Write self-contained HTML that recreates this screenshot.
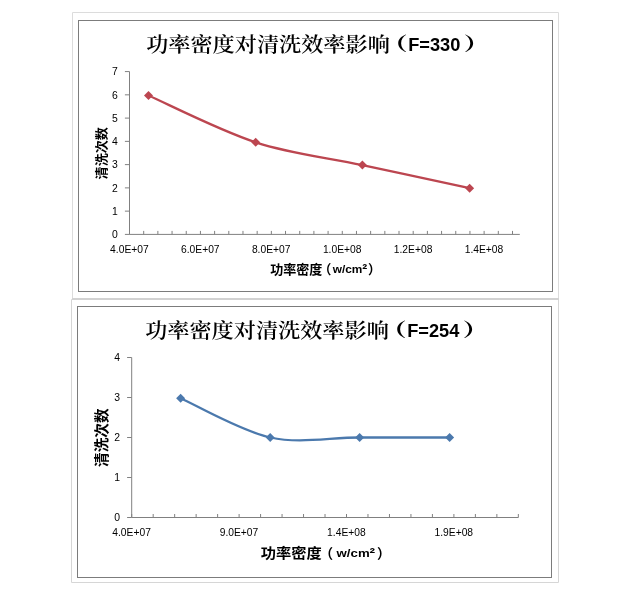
<!DOCTYPE html>
<html lang="zh"><head><meta charset="utf-8"><title>功率密度对清洗效率影响</title>
<style>
html,body{margin:0;padding:0;background:#fff;}
body{width:625px;height:601px;overflow:hidden;}
svg{display:block;}
</style></head><body>
<svg width="625" height="601" viewBox="0 0 625 601">
<rect width="625" height="601" fill="#fff"/>
<!-- outer frames -->
<path d="M72.5,12.5 H558.5 V298.5 H72.5 Z" fill="none" stroke="#dcdcdc" stroke-width="1"/>
<path d="M71.5,299.5 H558.5 V582.5 H71.5 Z" fill="none" stroke="#d6d6d6" stroke-width="1"/>
<path d="M72,299 H559" fill="none" stroke="#d2d2d2" stroke-width="2"/>
<rect x="78.5" y="20.5" width="474" height="271" fill="#fff" stroke="#7c7c7c" stroke-width="1"/>
<text x="146.2" y="52.0" font-family='"Liberation Serif","Noto Serif CJK SC",serif' font-size="20.6" font-weight="600" fill="#000" textLength="243.6" lengthAdjust="spacingAndGlyphs">功率密度对清洗效率影响</text>
<text x="381.7" y="49.8" font-family='"Liberation Serif","Noto Serif CJK SC",serif' font-size="18.5" font-weight="900" fill="#000" textLength="25.9" lengthAdjust="spacingAndGlyphs">（</text>
<text x="408.2" y="50.6" font-family='"Liberation Sans","Noto Sans CJK SC",sans-serif' font-size="18.4" font-weight="700" fill="#000" textLength="52.2" lengthAdjust="spacingAndGlyphs">F=330</text>
<text x="463.8" y="49.8" font-family='"Liberation Serif","Noto Serif CJK SC",serif' font-size="18.5" font-weight="900" fill="#000" textLength="25.9" lengthAdjust="spacingAndGlyphs">）</text>
<path d="M129.5,71.6 V234.4 H519.8" fill="none" stroke="#808080" stroke-width="1"/>
<text x="117.9" y="238.1" text-anchor="end" font-family='"Liberation Sans","Noto Sans CJK SC",sans-serif' font-size="10.4" fill="#000">0</text>
<text x="117.9" y="214.8" text-anchor="end" font-family='"Liberation Sans","Noto Sans CJK SC",sans-serif' font-size="10.4" fill="#000">1</text>
<text x="117.9" y="191.6" text-anchor="end" font-family='"Liberation Sans","Noto Sans CJK SC",sans-serif' font-size="10.4" fill="#000">2</text>
<text x="117.9" y="168.3" text-anchor="end" font-family='"Liberation Sans","Noto Sans CJK SC",sans-serif' font-size="10.4" fill="#000">3</text>
<text x="117.9" y="145.1" text-anchor="end" font-family='"Liberation Sans","Noto Sans CJK SC",sans-serif' font-size="10.4" fill="#000">4</text>
<text x="117.9" y="121.8" text-anchor="end" font-family='"Liberation Sans","Noto Sans CJK SC",sans-serif' font-size="10.4" fill="#000">5</text>
<text x="117.9" y="98.5" text-anchor="end" font-family='"Liberation Sans","Noto Sans CJK SC",sans-serif' font-size="10.4" fill="#000">6</text>
<text x="117.9" y="75.3" text-anchor="end" font-family='"Liberation Sans","Noto Sans CJK SC",sans-serif' font-size="10.4" fill="#000">7</text>
<path d="M124.9,234.40H129.5M124.9,211.14H129.5M124.9,187.88H129.5M124.9,164.62H129.5M124.9,141.36H129.5M124.9,118.10H129.5M124.9,94.84H129.5M124.9,71.58H129.5M129.50,234.4V230.9M143.69,234.4V230.9M157.87,234.4V230.9M172.06,234.4V230.9M186.24,234.4V230.9M200.43,234.4V230.9M214.61,234.4V230.9M228.80,234.4V230.9M242.98,234.4V230.9M257.17,234.4V230.9M271.35,234.4V230.9M285.53,234.4V230.9M299.72,234.4V230.9M313.90,234.4V230.9M328.09,234.4V230.9M342.27,234.4V230.9M356.46,234.4V230.9M370.64,234.4V230.9M384.83,234.4V230.9M399.01,234.4V230.9M413.20,234.4V230.9M427.38,234.4V230.9M441.57,234.4V230.9M455.75,234.4V230.9M469.94,234.4V230.9M484.12,234.4V230.9M498.31,234.4V230.9M512.50,234.4V230.9" fill="none" stroke="#808080" stroke-width="1"/>
<text x="129.4" y="252.6" text-anchor="middle" font-family='"Liberation Sans","Noto Sans CJK SC",sans-serif' font-size="10.4" textLength="38.6" lengthAdjust="spacingAndGlyphs" fill="#000">4.0E+07</text>
<text x="200.3" y="252.6" text-anchor="middle" font-family='"Liberation Sans","Noto Sans CJK SC",sans-serif' font-size="10.4" textLength="38.6" lengthAdjust="spacingAndGlyphs" fill="#000">6.0E+07</text>
<text x="271.2" y="252.6" text-anchor="middle" font-family='"Liberation Sans","Noto Sans CJK SC",sans-serif' font-size="10.4" textLength="38.6" lengthAdjust="spacingAndGlyphs" fill="#000">8.0E+07</text>
<text x="342.2" y="252.6" text-anchor="middle" font-family='"Liberation Sans","Noto Sans CJK SC",sans-serif' font-size="10.4" textLength="38.6" lengthAdjust="spacingAndGlyphs" fill="#000">1.0E+08</text>
<text x="413.1" y="252.6" text-anchor="middle" font-family='"Liberation Sans","Noto Sans CJK SC",sans-serif' font-size="10.4" textLength="38.6" lengthAdjust="spacingAndGlyphs" fill="#000">1.2E+08</text>
<text x="484.0" y="252.6" text-anchor="middle" font-family='"Liberation Sans","Noto Sans CJK SC",sans-serif' font-size="10.4" textLength="38.6" lengthAdjust="spacingAndGlyphs" fill="#000">1.4E+08</text>
<path d="M148.50,95.50 C166.37,103.30 220.05,130.70 255.70,142.30 C291.35,153.90 326.75,157.45 362.40,165.10 C398.05,172.75 451.73,184.35 469.60,188.20" fill="none" stroke="#BC4650" stroke-width="2.30" stroke-linecap="round" stroke-linejoin="round"/>
<path d="M144.00,95.50 l4.50,-4.50 l4.50,4.50 l-4.50,4.50 z" fill="#BC4650"/>
<path d="M251.20,142.30 l4.50,-4.50 l4.50,4.50 l-4.50,4.50 z" fill="#BC4650"/>
<path d="M357.90,165.10 l4.50,-4.50 l4.50,4.50 l-4.50,4.50 z" fill="#BC4650"/>
<path d="M465.10,188.20 l4.50,-4.50 l4.50,4.50 l-4.50,4.50 z" fill="#BC4650"/>
<text x="270.2" y="273.8" font-family='"Liberation Sans","Noto Sans CJK SC",sans-serif' font-size="12.90" font-weight="700" fill="#000" textLength="52.2" lengthAdjust="spacingAndGlyphs">功率密度</text>
<text x="318.5" y="273.8" font-family='"Liberation Sans","Noto Sans CJK SC",sans-serif' font-size="12.90" font-weight="700" fill="#000">（</text>
<text x="332.7" y="273.3" font-family='"Liberation Sans","Noto Sans CJK SC",sans-serif' font-size="11.22" font-weight="700" fill="#000" textLength="34.6" lengthAdjust="spacingAndGlyphs">w/cm<tspan font-size="14.19" dy="0.8">²</tspan></text>
<text x="368.0" y="273.8" font-family='"Liberation Sans","Noto Sans CJK SC",sans-serif' font-size="12.90" font-weight="700" fill="#000">）</text>
<text transform="translate(106.2,153.3) rotate(-90)" text-anchor="middle" font-family='"Liberation Sans","Noto Sans CJK SC",sans-serif' font-size="12.90" font-weight="700" fill="#000" textLength="52.2" lengthAdjust="spacingAndGlyphs">清洗次数</text>
<rect x="77.5" y="306.5" width="474" height="271" fill="#fff" stroke="#7c7c7c" stroke-width="1"/>
<text x="145.2" y="338.0" font-family='"Liberation Serif","Noto Serif CJK SC",serif' font-size="20.6" font-weight="600" fill="#000" textLength="243.6" lengthAdjust="spacingAndGlyphs">功率密度对清洗效率影响</text>
<text x="380.7" y="335.8" font-family='"Liberation Serif","Noto Serif CJK SC",serif' font-size="18.5" font-weight="900" fill="#000" textLength="25.9" lengthAdjust="spacingAndGlyphs">（</text>
<text x="407.2" y="336.6" font-family='"Liberation Sans","Noto Sans CJK SC",sans-serif' font-size="18.4" font-weight="700" fill="#000" textLength="52.2" lengthAdjust="spacingAndGlyphs">F=254</text>
<text x="462.8" y="335.8" font-family='"Liberation Serif","Noto Serif CJK SC",serif' font-size="18.5" font-weight="900" fill="#000" textLength="25.9" lengthAdjust="spacingAndGlyphs">）</text>
<path d="M131.7,357.5 V517.5 H518.4" fill="none" stroke="#808080" stroke-width="1"/>
<text x="120.1" y="521.2" text-anchor="end" font-family='"Liberation Sans","Noto Sans CJK SC",sans-serif' font-size="10.4" fill="#000">0</text>
<text x="120.1" y="481.2" text-anchor="end" font-family='"Liberation Sans","Noto Sans CJK SC",sans-serif' font-size="10.4" fill="#000">1</text>
<text x="120.1" y="441.2" text-anchor="end" font-family='"Liberation Sans","Noto Sans CJK SC",sans-serif' font-size="10.4" fill="#000">2</text>
<text x="120.1" y="401.2" text-anchor="end" font-family='"Liberation Sans","Noto Sans CJK SC",sans-serif' font-size="10.4" fill="#000">3</text>
<text x="120.1" y="361.2" text-anchor="end" font-family='"Liberation Sans","Noto Sans CJK SC",sans-serif' font-size="10.4" fill="#000">4</text>
<path d="M127.1,517.50H131.7M127.1,477.50H131.7M127.1,437.50H131.7M127.1,397.50H131.7M127.1,357.50H131.7M131.70,517.5V514.0M153.18,517.5V514.0M174.66,517.5V514.0M196.14,517.5V514.0M217.62,517.5V514.0M239.10,517.5V514.0M260.58,517.5V514.0M282.06,517.5V514.0M303.54,517.5V514.0M325.02,517.5V514.0M346.50,517.5V514.0M367.98,517.5V514.0M389.46,517.5V514.0M410.94,517.5V514.0M432.42,517.5V514.0M453.90,517.5V514.0M475.38,517.5V514.0M496.86,517.5V514.0M518.34,517.5V514.0" fill="none" stroke="#808080" stroke-width="1"/>
<text x="131.6" y="535.7" text-anchor="middle" font-family='"Liberation Sans","Noto Sans CJK SC",sans-serif' font-size="10.4" textLength="38.6" lengthAdjust="spacingAndGlyphs" fill="#000">4.0E+07</text>
<text x="239.0" y="535.7" text-anchor="middle" font-family='"Liberation Sans","Noto Sans CJK SC",sans-serif' font-size="10.4" textLength="38.6" lengthAdjust="spacingAndGlyphs" fill="#000">9.0E+07</text>
<text x="346.4" y="535.7" text-anchor="middle" font-family='"Liberation Sans","Noto Sans CJK SC",sans-serif' font-size="10.4" textLength="38.6" lengthAdjust="spacingAndGlyphs" fill="#000">1.4E+08</text>
<text x="453.8" y="535.7" text-anchor="middle" font-family='"Liberation Sans","Noto Sans CJK SC",sans-serif' font-size="10.4" textLength="38.6" lengthAdjust="spacingAndGlyphs" fill="#000">1.9E+08</text>
<path d="M180.60,398.30 C195.53,404.83 240.37,430.97 270.20,437.50 C300.03,444.03 329.70,437.50 359.60,437.50 C389.50,437.50 434.60,437.50 449.60,437.50" fill="none" stroke="#4B79AD" stroke-width="2.30" stroke-linecap="round" stroke-linejoin="round"/>
<path d="M176.10,398.30 l4.50,-4.50 l4.50,4.50 l-4.50,4.50 z" fill="#4B79AD"/>
<path d="M265.70,437.50 l4.50,-4.50 l4.50,4.50 l-4.50,4.50 z" fill="#4B79AD"/>
<path d="M355.10,437.50 l4.50,-4.50 l4.50,4.50 l-4.50,4.50 z" fill="#4B79AD"/>
<path d="M445.10,437.50 l4.50,-4.50 l4.50,4.50 l-4.50,4.50 z" fill="#4B79AD"/>
<text x="260.8" y="557.6" font-family='"Liberation Sans","Noto Sans CJK SC",sans-serif' font-size="13.60" font-weight="700" fill="#000" textLength="61.0" lengthAdjust="spacingAndGlyphs">功率密度</text>
<text x="319.6" y="557.6" font-family='"Liberation Sans","Noto Sans CJK SC",sans-serif' font-size="13.60" font-weight="700" fill="#000">（</text>
<text x="336.6" y="557.1" font-family='"Liberation Sans","Noto Sans CJK SC",sans-serif' font-size="11.83" font-weight="700" fill="#000" textLength="38.6" lengthAdjust="spacingAndGlyphs">w/cm<tspan font-size="14.96" dy="0.8">²</tspan></text>
<text x="376.9" y="557.6" font-family='"Liberation Sans","Noto Sans CJK SC",sans-serif' font-size="13.60" font-weight="700" fill="#000">）</text>
<text transform="translate(107.3,437.7) rotate(-90)" text-anchor="middle" font-family='"Liberation Sans","Noto Sans CJK SC",sans-serif' font-size="14.40" font-weight="700" fill="#000" textLength="58.6" lengthAdjust="spacingAndGlyphs">清洗次数</text>
</svg>
</body></html>
